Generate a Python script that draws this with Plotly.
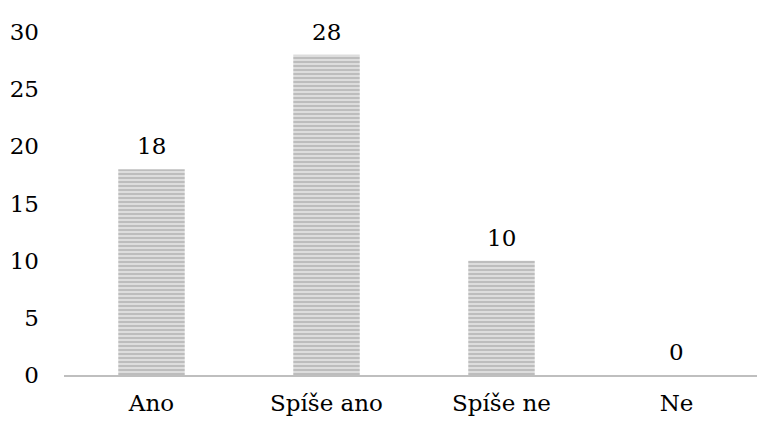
import plotly.graph_objects as go

categories = ["Ano", "Spíše ano", "Spíše ne", "Ne"]
counts = [18, 28, 10, 0]
y_ticks = [0, 5, 10, 15, 20, 25, 30]

font_family = "DejaVu Serif"
text_size = 23

fig = go.Figure(
    go.Bar(
        x=categories,
        y=counts,
        width=0.38,
        cliponaxis=False,
        marker=dict(
            color="#d6d6d6",
            line=dict(width=0),
            pattern=dict(shape="-", fgcolor="#969696", bgcolor="#dddddd",
                         size=4, solidity=0.45),
        ),
    )
)

# value labels above each bar
for cat, val in zip(categories, counts):
    fig.add_annotation(
        x=cat, y=val, text=str(val), showarrow=False,
        yanchor="bottom", yshift=8,
        font=dict(family=font_family, size=text_size, color="#000000"),
    )

fig.update_layout(
    width=757,
    height=421,
    margin=dict(l=64, r=0, t=32, b=46),
    paper_bgcolor="white",
    plot_bgcolor="white",
    showlegend=False,
    font=dict(family=font_family, size=text_size, color="#000000"),
)

fig.update_xaxes(
    range=[-0.5, 3.46],
    showline=True,
    linecolor="#bfbfbf",
    linewidth=2,
    ticks="",
    showgrid=False,
    tickfont=dict(family=font_family, size=text_size, color="#000000"),
    ticklabelstandoff=6,
)

fig.update_yaxes(
    range=[0, 30],
    tickvals=y_ticks,
    showgrid=False,
    zeroline=False,
    showline=False,
    ticks="",
    tickfont=dict(family=font_family, size=text_size, color="#000000"),
    ticklabelstandoff=24,
)

fig.write_html("out.html")
